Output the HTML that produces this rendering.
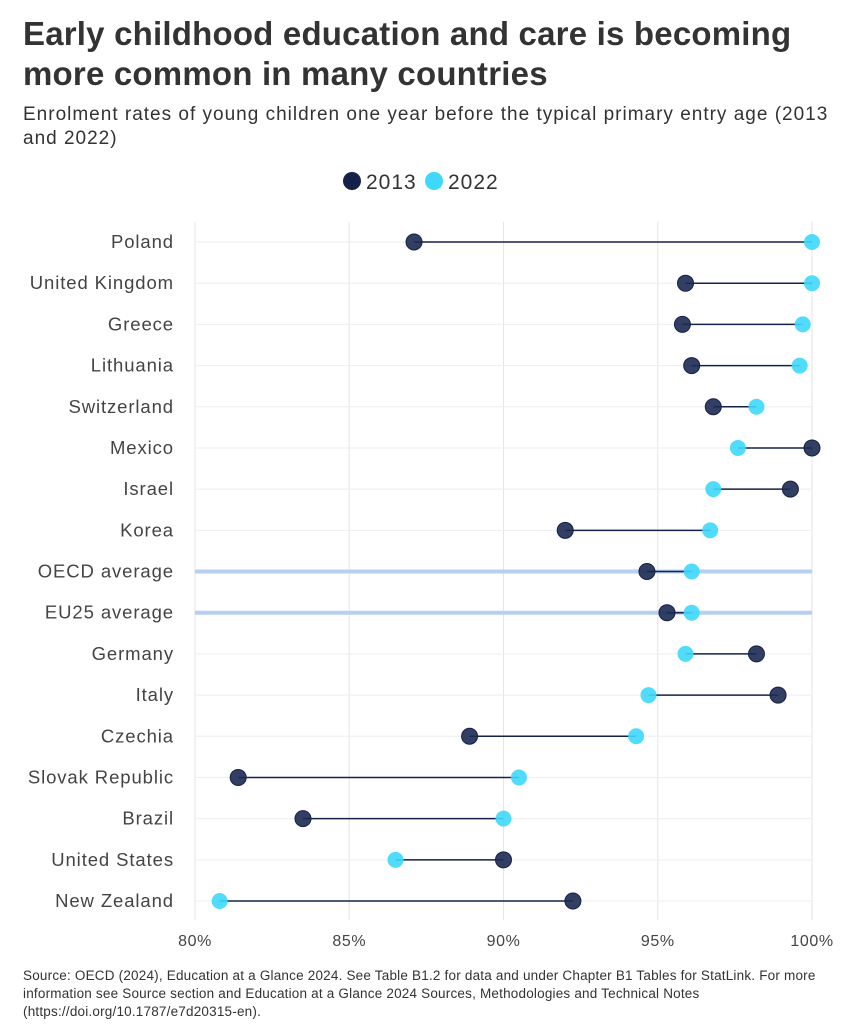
<!DOCTYPE html>
<html><head><meta charset="utf-8"><style>
body{margin:0;background:#fff;font-family:"Liberation Sans",sans-serif;}
#wrap{position:relative;width:846px;height:1035px;overflow:hidden}
h1{position:absolute;left:23px;top:14px;margin:0;font-size:33px;line-height:40px;font-weight:bold;color:#333;width:800px;letter-spacing:0.2px}
#sub{position:absolute;left:23px;top:103px;font-size:19px;line-height:24px;color:#333;width:820px;letter-spacing:1px}
#src{position:absolute;left:23px;top:967px;font-size:13.5px;line-height:18px;color:#333;width:810px;letter-spacing:0.2px}
</style></head><body><div id="wrap">
<h1>Early childhood education and care is becoming more common in many countries</h1>
<div id="sub">Enrolment rates of young children one year before the typical primary entry age (2013<br>and 2022)</div>
<svg id="chart" width="846" height="960" style="position:absolute;left:0;top:0"></svg>
<div id="src">Source: OECD (2024), Education at a Glance 2024. See Table B1.2 for data and under Chapter B1 Tables for StatLink. For more information see Source section and Education at a Glance 2024 Sources, Methodologies and Technical Notes (https://doi.org/10.1787/e7d20315-en).</div>
</div>
<script>
const categories=["Poland","United Kingdom","Greece","Lithuania","Switzerland","Mexico","Israel","Korea","OECD average","EU25 average","Germany","Italy","Czechia","Slovak Republic","Brazil","United States","New Zealand"];
const values2013=[87.1,95.9,95.8,96.1,96.8,100,99.3,92.0,94.65,95.3,98.2,98.9,88.9,81.4,83.5,90.0,92.25];
const values2022=[100,100,99.7,99.6,98.2,97.6,96.8,96.7,96.1,96.1,95.9,94.7,94.3,90.5,90.0,86.5,80.8];
const ticks=[80,85,90,95,100];
const NS="http://www.w3.org/2000/svg";
const svg=document.getElementById('chart');
const x=v=>195+(v-80)*(812-195)/20;
const y=i=>242+i*(901-242)/16;
function mk(t,a){const e=document.createElementNS(NS,t);for(const k in a)e.setAttribute(k,a[k]);svg.appendChild(e);return e;}
ticks.forEach(t=>{
 const g=mk('line',{x1:x(t),x2:x(t),y1:222,y2:920,stroke:'#e6e6e6','stroke-width':1});
 
 
 const l=mk('text',{x:x(t),y:946,'text-anchor':'middle','font-size':16,fill:'#444','letter-spacing':0.6});l.textContent=t+'%';
 
 
});
categories.forEach((c,i)=>{
 const avg=c.indexOf('average')>=0;
 const h=mk('line',{x1:195,x2:812,y1:y(i),y2:y(i),stroke:avg?'#b7cff2':'#eeeeee','stroke-width':avg?4:1});
 
 
 const l=mk('text',{x:174,y:y(i)+6,'text-anchor':'end','font-size':18.5,fill:'#444','letter-spacing':0.9});l.textContent=c;
 
 
 const ln=mk('line',{x1:x(values2013[i]),x2:x(values2022[i]),y1:y(i),y2:y(i),stroke:'#14224a','stroke-width':1.5});
 
 
 const a=mk('circle',{cx:x(values2013[i]),cy:y(i),r:8,fill:'#1c2a52','fill-opacity':0.9,stroke:'#14224a','stroke-width':1});
 
 
 const b=mk('circle',{cx:x(values2022[i]),cy:y(i),r:8,fill:'#3fd8fb','fill-opacity':0.9});
 
 
});
const l1=mk('circle',{cx:352,cy:181,r:9,fill:'#14224a'});


const t1=mk('text',{x:366,y:189,'font-size':21,fill:'#333','letter-spacing':1});t1.textContent='2013';


const l2=mk('circle',{cx:434,cy:181,r:9,fill:'#3fd8fb'});


const t2=mk('text',{x:448,y:189,'font-size':21,fill:'#333','letter-spacing':1});t2.textContent='2022';


</script></body></html>
